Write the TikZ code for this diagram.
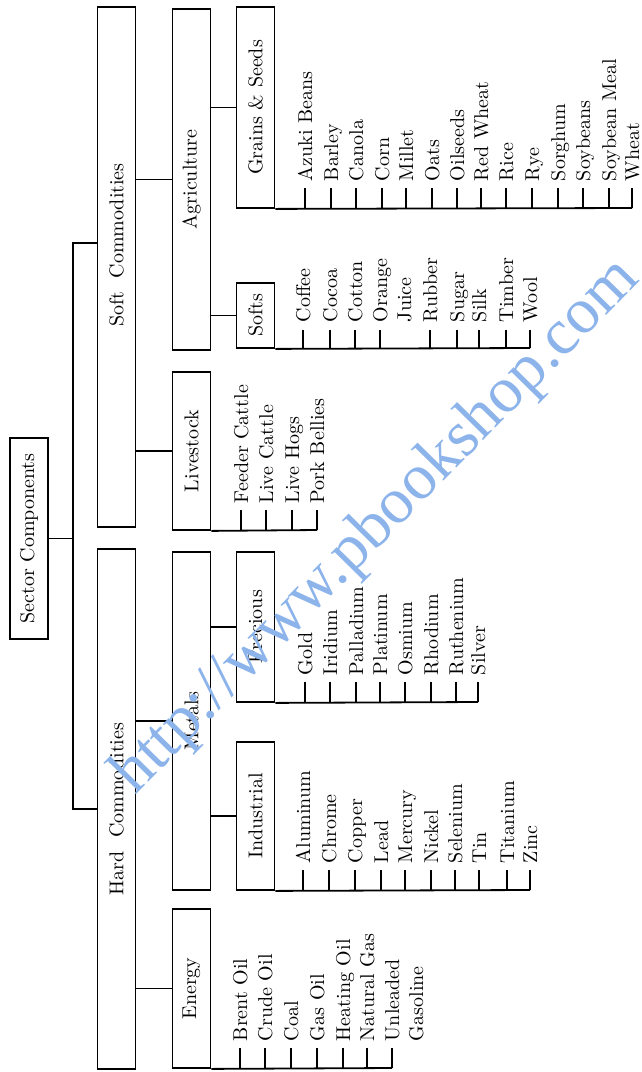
\documentclass[tikz,border=0pt]{standalone}
\usepackage{fontspec}
\newfontfamily\wmfont{Liberation Serif}
\definecolor{wmblue}{RGB}{140,180,235}
\begin{document}
\begin{tikzpicture}[x=0.5pt,y=-0.5pt,line width=0.9pt,
        cat/.style={draw,rotate=90,minimum height=19pt,inner sep=0pt},
        leaf/.style={rotate=90,anchor=base west,inner sep=0pt,align=left}]
    \useasboundingbox (0,0) rectangle (642,1072);
    % boxes
    \node[cat,minimum width=100.5pt] (sector) at (29,538.5) {Sector Components};
    \node[cat,minimum width=260pt] (soft) at (116.5,267) {\hspace*{22pt}Soft~~Commodities};
    \node[cat,minimum width=260pt] (hard) at (116.5,809) {Hard~~Commodities};
    \node[cat,minimum width=170.5pt] (agri) at (191.5,179.5) {Agriculture};
    \node[cat,minimum width=79pt] (livestock) at (191.5,451) {Livestock};
    \node[cat,minimum width=169pt] (metals) at (191.5,721) {Metals};
    \node[cat,minimum width=79.5pt] (energy) at (191.5,988.5) {Energy};
    \node[cat,minimum width=100.5pt] (grains) at (255.5,107.5) {Grains \& Seeds};
    \node[cat,minimum width=32.5pt] (softs) at (255.5,315.5) {Softs};
    \node[cat,minimum width=75pt] (precious) at (255.5,627) {Precious};
    \node[cat,minimum width=74pt] (industrial) at (255.5,816) {Industrial};
    % tree
    \coordinate (trunk) at ([xshift=12pt]sector.south);
    \coordinate (softin) at ([yshift=12pt]soft.north);
    \draw (sector.south) -- (trunk);
    \draw (softin) -| (trunk) |- (hard.north);
    \draw (soft.south |- agri) -- (agri.north);
    \draw (soft.south |- livestock) -- (livestock.north);
    \draw (hard.south |- metals) -- (metals.north);
    \draw (hard.south |- energy) -- (energy.north);
    \draw (agri.south |- grains) -- (grains.north);
    \draw (agri.south |- softs) -- (softs.north);
    \draw (metals.south |- precious) -- (precious.north);
    \draw (metals.south |- industrial) -- (industrial.north);
    % grains & seeds
    \draw (305,208) -- +(0,-20) +(7,-26) node[leaf] (azuki) {Azuki Beans};
    \draw (331,208) -- +(0,-20) +(7,-26) node[leaf] (barley) {Barley};
    \draw (356,208) -- +(0,-20) +(7,-26) node[leaf] (canola) {Canola};
    \draw (382,208) -- +(0,-20) +(7,-26) node[leaf] (corn) {Corn};
    \draw (406,208) -- +(0,-20) +(7,-26) node[leaf] (millet) {Millet};
    \draw (432,208) -- +(0,-20) +(7,-26) node[leaf] (oats) {Oats};
    \draw (457,208) -- +(0,-20) +(7,-26) node[leaf] (oilseeds) {Oilseeds};
    \draw (481,208) -- +(0,-20) +(7,-26) node[leaf] (redwheat) {Red Wheat};
    \draw (506,208) -- +(0,-20) +(7,-26) node[leaf] (rice) {Rice};
    \draw (532,208) -- +(0,-20) +(7,-26) node[leaf] (rye) {Rye};
    \draw (558,208) -- +(0,-20) +(7,-26) node[leaf] (sorghum) {Sorghum};
    \draw (583,208) -- +(0,-20) +(7,-26) node[leaf] (soybeans) {Soybeans};
    \draw (609,208) -- +(0,-20) +(7,-26) node[leaf] (soymeal) {Soybean Meal};
    \draw (632,208) coordinate (grainsend) -- +(0,-20) +(7,-26) node[leaf] (wheat) {Wheat};
    \draw (grains.south west) -- (grainsend);
    % softs
    \draw (303,348) -- +(0,-18) +(7,-25) node[leaf] (coffee) {Coffee};
    \draw (330,348) -- +(0,-18) +(7,-25) node[leaf] (cocoa) {Cocoa};
    \draw (355,348) -- +(0,-18) +(7,-25) node[leaf] (cotton) {Cotton};
    \draw (380,348) -- +(0,-18) +(31,-25) node[leaf] (ojuice) {Orange\\Juice};
    \draw (430,348) -- +(0,-18) +(7,-25) node[leaf] (rubber) {Rubber};
    \draw (457,348) -- +(0,-18) +(7,-25) node[leaf] (sugar) {Sugar};
    \draw (479,348) -- +(0,-18) +(7,-25) node[leaf] (silk) {Silk};
    \draw (506,348) -- +(0,-18) +(7,-25) node[leaf] (timber) {Timber};
    \draw (530,348) coordinate (softsend) -- +(0,-18) +(7,-25) node[leaf] (wool) {Wool};
    \draw (softs.south west) -- (softsend);
    % livestock
    \draw (241,530) -- +(0,-20) +(7,-26) node[leaf] (feeder) {Feeder Cattle};
    \draw (266,530) -- +(0,-20) +(7,-26) node[leaf] (livecattle) {Live Cattle};
    \draw (292,530) -- +(0,-20) +(7,-26) node[leaf] (livehogs) {Live Hogs};
    \draw (317,530) coordinate (livend) -- +(0,-20) +(7,-26) node[leaf] (pork) {Pork Bellies};
    \draw (livestock.south west) -- (livend);
    % precious
    \draw (305,702) -- +(0,-20) +(7,-26) node[leaf] (gold) {Gold};
    \draw (330,702) -- +(0,-20) +(7,-26) node[leaf] (iridium) {Iridium};
    \draw (356,702) -- +(0,-20) +(7,-26) node[leaf] (palladium) {Palladium};
    \draw (380,702) -- +(0,-20) +(7,-26) node[leaf] (platinum) {Platinum};
    \draw (405,702) -- +(0,-20) +(7,-26) node[leaf] (osmium) {Osmium};
    \draw (431,702) -- +(0,-20) +(7,-26) node[leaf] (rhodium) {Rhodium};
    \draw (456,702) -- +(0,-20) +(7,-26) node[leaf] (ruthenium) {Ruthenium};
    \draw (478,702) coordinate (precend) -- +(0,-20) +(7,-26) node[leaf] (silver) {Silver};
    \draw (precious.south west) -- (precend);
    % industrial
    \draw (303,890) -- +(0,-20) +(7,-26) node[leaf] (aluminum) {Aluminum};
    \draw (329,890) -- +(0,-20) +(7,-26) node[leaf] (chrome) {Chrome};
    \draw (355,890) -- +(0,-20) +(7,-26) node[leaf] (copper) {Copper};
    \draw (381,890) -- +(0,-20) +(7,-26) node[leaf] (lead) {Lead};
    \draw (405,890) -- +(0,-20) +(7,-26) node[leaf] (mercury) {Mercury};
    \draw (431,890) -- +(0,-20) +(7,-26) node[leaf] (nickel) {Nickel};
    \draw (455,890) -- +(0,-20) +(7,-26) node[leaf] (selenium) {Selenium};
    \draw (479,890) -- +(0,-20) +(7,-26) node[leaf] (tin) {Tin};
    \draw (507,890) -- +(0,-20) +(7,-26) node[leaf] (titanium) {Titanium};
    \draw (530,890) coordinate (indend) -- +(0,-20) +(7,-26) node[leaf] (zinc) {Zinc};
    \draw (industrial.south west) -- (indend);
    % energy
    \draw (240,1068) -- +(0,-20) +(7,-26) node[leaf] (brent) {Brent Oil};
    \draw (265,1068) -- +(0,-20) +(7,-26) node[leaf] (crude) {Crude Oil};
    \draw (291,1068) -- +(0,-20) +(7,-26) node[leaf] (coal) {Coal};
    \draw (317,1068) -- +(0,-20) +(7,-26) node[leaf] (gasoil) {Gas Oil};
    \draw (343,1068) -- +(0,-20) +(7,-26) node[leaf] (heating) {Heating Oil};
    \draw (367,1068) -- +(0,-20) +(7,-26) node[leaf] (natgas) {Natural Gas};
    \draw (392,1068) coordinate (energyend) -- +(0,-20) +(31,-26) node[leaf] (unleaded) {Unleaded\\Gasoline};
    \draw (energy.south west) -- (energyend);
    % watermark
    \node[text=wmblue,font=\wmfont\fontsize{32.5}{38}\selectfont,rotate=45.5] (wm) at (377,527) {http://www.pbookshop.com};
\end{tikzpicture}
\end{document}
